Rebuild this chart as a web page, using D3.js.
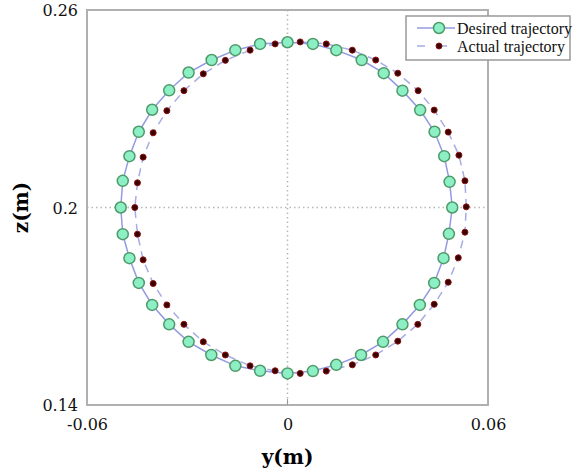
<!DOCTYPE html>
<html>
<head>
<meta charset="utf-8">
<script src="https://cdn.jsdelivr.net/npm/d3@7"></script>
<style>
  body { margin: 0; background: #fff; }
</style>
</head>
<body>
<div id="chart"></div>
<script>
// Desired vs actual circular trajectory in the y-z plane

// desired trajectory (m)
const desiredY = [0.0000, 0.0076, 0.0146, 0.0222, 0.0288, 0.0344, 0.0397, 0.0440, 0.0469, 0.0485,
    0.0493, 0.0483, 0.0467, 0.0439, 0.0396, 0.0344, 0.0286, 0.0220, 0.0146, 0.0076,
    0.0000, -0.0082, -0.0156, -0.0228, -0.0296, -0.0354, -0.0405, -0.0445, -0.0473, -0.0493,
    -0.0499, -0.0493, -0.0473, -0.0445, -0.0405, -0.0354, -0.0296, -0.0227, -0.0156, -0.0082];
const desiredZ = [0.2502, 0.2497, 0.2478, 0.2448, 0.2408, 0.2355, 0.2296, 0.2230, 0.2156, 0.2078,
    0.2000, 0.1920, 0.1846, 0.1771, 0.1704, 0.1645, 0.1592, 0.1552, 0.1522, 0.1503,
    0.1496, 0.1504, 0.1519, 0.1552, 0.1592, 0.1645, 0.1704, 0.1771, 0.1846, 0.1919,
    0.2000, 0.2081, 0.2156, 0.2230, 0.2297, 0.2356, 0.2410, 0.2448, 0.2478, 0.2497];

// actual trajectory (m)
const actualY = [0.0038, 0.0116, 0.0194, 0.0264, 0.0330, 0.0391, 0.0439, 0.0481, 0.0513, 0.0531,
    0.0535, 0.0531, 0.0511, 0.0481, 0.0439, 0.0390, 0.0330, 0.0264, 0.0194, 0.0116,
    0.0038, -0.0037, -0.0112, -0.0186, -0.0252, -0.0310, -0.0361, -0.0402, -0.0432, -0.0449,
    -0.0457, -0.0449, -0.0432, -0.0402, -0.0361, -0.0310, -0.0252, -0.0186, -0.0112, -0.0037];
const actualZ = [0.2503, 0.2497, 0.2478, 0.2448, 0.2408, 0.2355, 0.2296, 0.2229, 0.2159, 0.2081,
    0.2002, 0.1925, 0.1847, 0.1773, 0.1706, 0.1645, 0.1594, 0.1552, 0.1522, 0.1503,
    0.1496, 0.1504, 0.1519, 0.1552, 0.1592, 0.1645, 0.1704, 0.1769, 0.1841, 0.1919,
    0.2000, 0.2075, 0.2153, 0.2227, 0.2294, 0.2355, 0.2406, 0.2447, 0.2478, 0.2497];

const xTicks = [-0.06, 0, 0.06];
const xTickLabels = ["-0.06", "0", "0.06"];
const yTicks = [0.14, 0.2, 0.26];
const yTickLabels = ["0.14", "0.2", "0.26"];
const seriesNames = ["Desired trajectory", "Actual trajectory"];

const W = 573, H = 472;
const margin = {top: 10, right: 85, bottom: 67, left: 87},
    width = W - margin.left - margin.right,
    height = H - margin.top - margin.bottom;

const svg = d3.select("#chart")
    .append("svg")
    .attr("width", W)
    .attr("height", H)
    .style("font-family", "'DejaVu Serif', serif");

const g = svg.append("g")
    .attr("transform", `translate(${margin.left},${margin.top})`);

const x = d3.scaleLinear().domain([-0.06, 0.06]).range([0, width]);
const y = d3.scaleLinear().domain([0.14, 0.26]).range([height, 0]);

const desired = desiredY.map((v, i) => [v, desiredZ[i]]);
const actual = actualY.map((v, i) => [v, actualZ[i]]);

// dotted cross at the centre
g.append("line")
    .attr("x1", x(0)).attr("x2", x(0))
    .attr("y1", 0).attr("y2", height)
    .attr("stroke", "#b8b8b8")
    .attr("stroke-width", 1.5)
    .attr("stroke-dasharray", "1.5,3");
g.append("line")
    .attr("x1", 0).attr("x2", width)
    .attr("y1", y(0.2)).attr("y2", y(0.2))
    .attr("stroke", "#b8b8b8")
    .attr("stroke-width", 1.5)
    .attr("stroke-dasharray", "1.5,3");

// frame
g.append("rect")
    .attr("width", width)
    .attr("height", height)
    .attr("fill", "none")
    .attr("stroke", "#b0b0b0")
    .attr("stroke-width", 2);

// axes (labels only, no domain)
const xAxis = g.append("g")
    .attr("transform", `translate(0,${height})`)
    .call(d3.axisBottom(x).tickValues(xTicks).tickFormat((d, i) => xTickLabels[i]).tickSize(0).tickPadding(14));
const yAxis = g.append("g")
    .call(d3.axisLeft(y).tickValues(yTicks).tickFormat((d, i) => yTickLabels[i]).tickSize(0).tickPadding(9));
[xAxis, yAxis].forEach(a => {
    a.select(".domain").remove();
    a.selectAll("text")
        .style("font-family", "'DejaVu Serif', serif")
        .style("font-size", "16px")
        .attr("fill", "#111");
});
yAxis.selectAll("text").attr("dy", "0.35em");

// small inner tick at 0 on bottom
g.append("line")
    .attr("x1", x(0)).attr("x2", x(0))
    .attr("y1", height).attr("y2", height - 6)
    .attr("stroke", "#999");

// axis titles
svg.append("text")
    .attr("x", margin.left + x(0))
    .attr("y", 464)
    .attr("text-anchor", "middle")
    .attr("font-weight", "bold")
    .attr("font-size", 20)
    .text("y(m)");
svg.append("text")
    .attr("transform", `translate(28,${margin.top + y(0.2)}) rotate(-90)`)
    .attr("text-anchor", "middle")
    .attr("font-weight", "bold")
    .attr("font-size", 20)
    .text("z(m)");

const line = d3.line().x(d => x(d[0])).y(d => y(d[1])).curve(d3.curveLinearClosed);

// lines
g.append("path")
    .datum(actual)
    .attr("d", line)
    .attr("fill", "none")
    .attr("stroke", "#a7ace6")
    .attr("stroke-width", 1.5)
    .attr("stroke-dasharray", "8,6");
g.append("path")
    .datum(desired)
    .attr("d", line)
    .attr("fill", "none")
    .attr("stroke", "#939be0")
    .attr("stroke-width", 1.5);

// markers
g.selectAll(".dpt")
    .data(desired)
    .enter()
    .append("circle")
    .attr("class", "dpt")
    .attr("cx", d => x(d[0]))
    .attr("cy", d => y(d[1]))
    .attr("r", 5.5)
    .attr("fill", "#8cf0c4")
    .attr("stroke", "#4f9a6a")
    .attr("stroke-width", 1.5);
g.selectAll(".apt")
    .data(actual)
    .enter()
    .append("circle")
    .attr("class", "apt")
    .attr("cx", d => x(d[0]))
    .attr("cy", d => y(d[1]))
    .attr("r", 3)
    .attr("fill", "#3a0000")
    .attr("stroke", "#8a1010")
    .attr("stroke-width", 1);

// legend
const lg = svg.append("g").attr("transform", "translate(406,16)");
lg.append("rect")
    .attr("width", 164)
    .attr("height", 44)
    .attr("fill", "#fff")
    .attr("stroke", "#999")
    .attr("stroke-width", 1.5);

seriesNames.forEach((name, i) => {
    const row = lg.append("g").attr("transform", `translate(0,${12 + i * 18})`);
    if (i === 0) {
        row.append("line").attr("x1", 11).attr("x2", 49).attr("stroke", "#939be0").attr("stroke-width", 1.5);
        row.append("circle").attr("cx", 33).attr("r", 5.5)
            .attr("fill", "#8cf0c4").attr("stroke", "#4f9a6a").attr("stroke-width", 1.5);
    } else {
        row.append("line").attr("x1", 11).attr("x2", 49).attr("stroke", "#a7ace6")
            .attr("stroke-width", 1.5).attr("stroke-dasharray", "8,14");
        row.append("circle").attr("cx", 33).attr("r", 3)
            .attr("fill", "#3a0000").attr("stroke", "#8a1010").attr("stroke-width", 1);
    }
    row.append("text")
        .attr("x", 51)
        .attr("dy", "0.35em")
        .style("font-family", "'Liberation Serif', serif")
        .style("font-size", "16px")
        .attr("fill", "#111")
        .text(name);
});
</script>
</body>
</html>
